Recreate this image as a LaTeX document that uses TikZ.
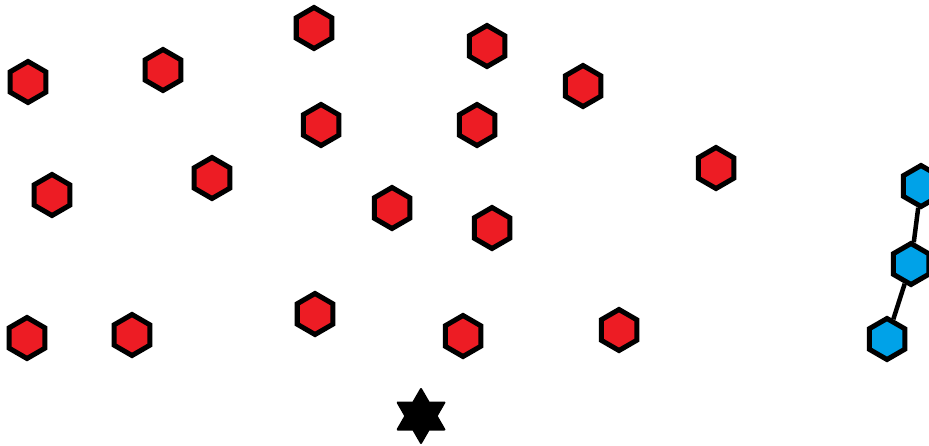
\documentclass[tikz,border=0pt]{standalone}
\usetikzlibrary{shapes.geometric}
\definecolor{hexred}{RGB}{237,28,36}
\definecolor{hexblue}{RGB}{0,162,232}
\begin{document}
\begin{tikzpicture}[x=1pt,y=-1pt,
  hexa/.style={regular polygon,regular polygon sides=6,shape border rotate=30,
    minimum size=41pt,inner sep=0pt,line width=5pt,draw=black,line join=miter},
  redhex/.style={hexa,fill=hexred},
  bluehex/.style={hexa,fill=hexblue},
  starmark/.style={star,star points=6,star point ratio=1.732,minimum size=54pt,
    inner sep=0pt,fill=black,draw=black,line width=2pt,line join=round},
  link/.style={line width=4.5pt,draw=black}]
\fill[white] (0,0) rectangle (929,445);
\useasboundingbox (0,0) rectangle (929,445);
\clip (0,0) rectangle (929,445);
\node[redhex] (r1) at (28,82) {};
\node[redhex] (r2) at (163,70) {};
\node[redhex] (r3) at (314,28) {};
\node[redhex] (r4) at (487,46) {};
\node[redhex] (r5) at (583,86) {};
\node[redhex] (r6) at (321,125) {};
\node[redhex] (r7) at (477,125) {};
\node[redhex] (r8) at (716,168) {};
\node[redhex] (r9) at (52,195) {};
\node[redhex] (r10) at (212,178) {};
\node[redhex] (r11) at (392,208) {};
\node[redhex] (r12) at (492,228) {};
\node[redhex] (r13) at (27,338) {};
\node[redhex] (r14) at (132,335) {};
\node[redhex] (r15) at (315,314) {};
\node[redhex] (r16) at (463,336) {};
\node[redhex] (r17) at (619,330) {};
\node[bluehex] (b1) at (921,186) {};
\node[bluehex] (b2) at (911,264) {};
\node[bluehex] (b3) at (887,339) {};
\draw[link] (b1) -- (b2);
\draw[link] (b2) -- (b3);
\node[starmark] (s) at (421,416) {};
\end{tikzpicture}
\end{document}
